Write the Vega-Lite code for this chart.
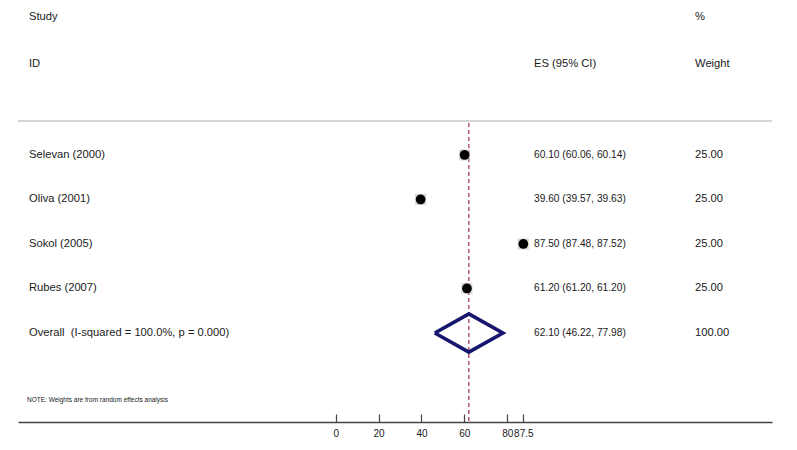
{
  "$schema": "https://vega.github.io/schema/vega-lite/v6.json",
  "width": 754,
  "height": 422,
  "autosize": "none",
  "padding": {"left": 18, "right": 25, "top": 0, "bottom": 28},
  "background": "white",
  "config": {"view": {"stroke": null}, "font": "Liberation Sans"},
  "datasets": {
    "studies": [
      {"study": "Selevan (2000)", "es": 60.10, "lo": 60.06, "hi": 60.14, "label": "60.10 (60.06, 60.14)", "weight": "25.00", "row": 1},
      {"study": "Oliva (2001)", "es": 39.60, "lo": 39.57, "hi": 39.63, "label": "39.60 (39.57, 39.63)", "weight": "25.00", "row": 2},
      {"study": "Sokol (2005)", "es": 87.50, "lo": 87.48, "hi": 87.52, "label": "87.50 (87.48, 87.52)", "weight": "25.00", "row": 3},
      {"study": "Rubes (2007)", "es": 61.20, "lo": 61.20, "hi": 61.20, "label": "61.20 (61.20, 61.20)", "weight": "25.00", "row": 4},
      {"study": "Overall\u00a0 (I-squared = 100.0%, p = 0.000)", "es": 62.10, "lo": 46.22, "hi": 77.98, "label": "62.10 (46.22, 77.98)", "weight": "100.00", "row": 5}
    ],
    "diamond": [
      {"x": 46.22, "row": 5, "order": 1},
      {"x": 62.10, "row": 4.57, "order": 2},
      {"x": 77.98, "row": 5, "order": 3},
      {"x": 62.10, "row": 5.43, "order": 4},
      {"x": 46.22, "row": 5, "order": 5}
    ],
    "one": [{"k": 1}]
  },
  "data": {"name": "studies"},
  "resolve": {"scale": {"x": "shared", "y": "shared"}},
  "layer": [
    {
      "data": {"name": "one"},
      "mark": {"type": "rule", "color": "#c8c8c8", "strokeWidth": 1.5},
      "encoding": {
        "x": {"datum": -148.2, "type": "quantitative",
          "scale": {"domain": [-148.2, 203.5], "nice": false, "zero": false},
          "axis": {
            "values": [0, 20, 40, 60, 80, 87.5],
            "labelExpr": "datum.value",
            "title": null,
            "grid": false,
            "orient": "bottom",
            "domainColor": "#444444",
            "domainWidth": 1.5,
            "tickColor": "#444444",
            "tickWidth": 1.2,
            "tickSize": -8,
            "labelPadding": 14,
            "labelFontSize": 10,
            "labelColor": "#1a1a1a",
            "labelFont": "Liberation Sans",
            "labelOverlap": false,
            "labelFlush": false,
            "labelBound": false
          }},
        "x2": {"datum": 203.5},
        "y": {"datum": 0.236, "type": "quantitative",
          "scale": {"domain": [-2.483, 7.0], "nice": false, "zero": false, "reverse": true},
          "axis": null}
      }
    },
    {
      "data": {"name": "one"},
      "mark": {"type": "rule", "color": "#a52c4a", "strokeWidth": 1.2, "strokeDash": [4, 3]},
      "encoding": {
        "x": {"datum": 62.1, "type": "quantitative"},
        "y": {"datum": 0.28, "type": "quantitative"},
        "y2": {"datum": 7.0}
      }
    },
    {
      "transform": [{"filter": "datum.row <= 4"}],
      "mark": {"type": "square", "color": "#bbbbbb", "opacity": 0.6, "size": 120},
      "encoding": {
        "x": {"field": "es", "type": "quantitative"},
        "y": {"field": "row", "type": "quantitative"}
      }
    },
    {
      "transform": [{"filter": "datum.row <= 4"}],
      "mark": {"type": "rule", "color": "black", "strokeWidth": 1},
      "encoding": {
        "x": {"field": "lo", "type": "quantitative"},
        "x2": {"field": "hi"},
        "y": {"field": "row", "type": "quantitative"}
      }
    },
    {
      "transform": [{"filter": "datum.row <= 4"}],
      "mark": {"type": "circle", "color": "black", "opacity": 1, "size": 95},
      "encoding": {
        "x": {"field": "es", "type": "quantitative"},
        "y": {"field": "row", "type": "quantitative"}
      }
    },
    {
      "data": {"name": "diamond"},
      "mark": {"type": "line", "color": "#16166e", "strokeWidth": 3.6, "strokeJoin": "miter"},
      "encoding": {
        "x": {"field": "x", "type": "quantitative"},
        "y": {"field": "row", "type": "quantitative"},
        "order": {"field": "order"}
      }
    },
    {
      "mark": {"type": "text", "align": "left", "baseline": "middle", "fontSize": 11.2, "color": "#1a1a1a"},
      "encoding": {
        "x": {"datum": -143.07, "type": "quantitative"},
        "y": {"field": "row", "type": "quantitative"},
        "text": {"field": "study"}
      }
    },
    {
      "mark": {"type": "text", "align": "left", "baseline": "middle", "fontSize": 10.2, "color": "#1a1a1a"},
      "encoding": {
        "x": {"datum": 92.5, "type": "quantitative"},
        "y": {"field": "row", "type": "quantitative"},
        "text": {"field": "label"}
      }
    },
    {
      "mark": {"type": "text", "align": "left", "baseline": "middle", "fontSize": 11.2, "color": "#1a1a1a"},
      "encoding": {
        "x": {"datum": 167.6, "type": "quantitative"},
        "y": {"field": "row", "type": "quantitative"},
        "text": {"field": "weight"}
      }
    },
    {
      "data": {"name": "one"},
      "mark": {"type": "text", "align": "left", "baseline": "middle", "fontSize": 11.2, "color": "#1a1a1a"},
      "encoding": {
        "x": {"datum": -143.07, "type": "quantitative"},
        "y": {"datum": -2.1, "type": "quantitative"},
        "text": {"value": "Study"}
      }
    },
    {
      "data": {"name": "one"},
      "mark": {"type": "text", "align": "left", "baseline": "middle", "fontSize": 11.2, "color": "#1a1a1a"},
      "encoding": {
        "x": {"datum": -143.07, "type": "quantitative"},
        "y": {"datum": -1.045, "type": "quantitative"},
        "text": {"value": "ID"}
      }
    },
    {
      "data": {"name": "one"},
      "mark": {"type": "text", "align": "left", "baseline": "middle", "fontSize": 11.2, "color": "#1a1a1a"},
      "encoding": {
        "x": {"datum": 92.5, "type": "quantitative"},
        "y": {"datum": -1.045, "type": "quantitative"},
        "text": {"value": "ES (95% CI)"}
      }
    },
    {
      "data": {"name": "one"},
      "mark": {"type": "text", "align": "left", "baseline": "middle", "fontSize": 11.2, "color": "#1a1a1a"},
      "encoding": {
        "x": {"datum": 167.6, "type": "quantitative"},
        "y": {"datum": -2.1, "type": "quantitative"},
        "text": {"value": "%"}
      }
    },
    {
      "data": {"name": "one"},
      "mark": {"type": "text", "align": "left", "baseline": "middle", "fontSize": 11.2, "color": "#1a1a1a"},
      "encoding": {
        "x": {"datum": 167.6, "type": "quantitative"},
        "y": {"datum": -1.045, "type": "quantitative"},
        "text": {"value": "Weight"}
      }
    },
    {
      "data": {"name": "one"},
      "mark": {"type": "text", "align": "left", "baseline": "middle", "fontSize": 6.5, "color": "#1a1a1a"},
      "encoding": {
        "x": {"datum": -144.0, "type": "quantitative"},
        "y": {"datum": 6.506, "type": "quantitative"},
        "text": {"value": "NOTE: Weights are from random effects analysis"}
      }
    }
  ]
}
